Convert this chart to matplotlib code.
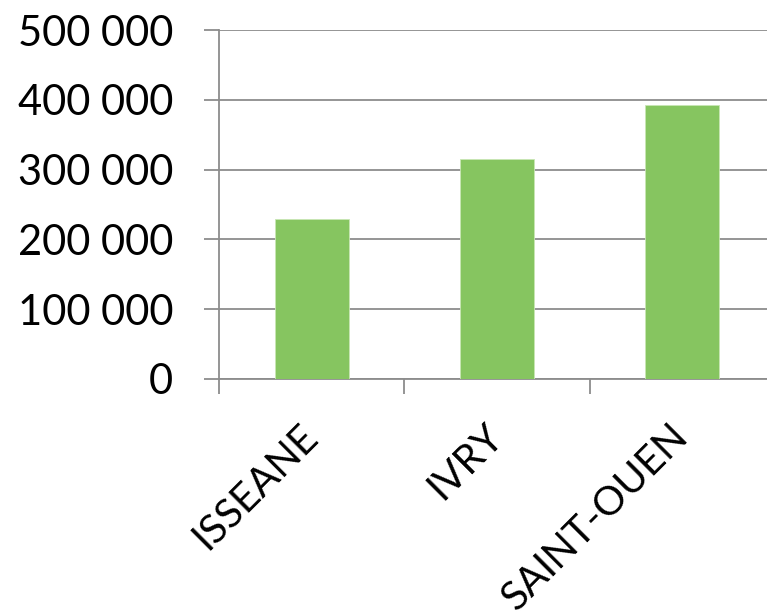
import matplotlib
matplotlib.use("Agg")
import matplotlib.pyplot as plt
from matplotlib.ticker import FuncFormatter, FixedLocator

plt.rcParams['font.family'] = ['Lato', 'DejaVu Sans']

# Sites and their values
sites = ['ISSEANE', 'IVRY', 'SAINT-OUEN']
values = [229700, 315700, 393000]

grid_col = '#8c8c8c'
bar_col = '#86c560'

fig = plt.figure(figsize=(7.67, 6.12), dpi=100)
# plot area runs a little past the right edge of the figure
ax = fig.add_axes([219 / 767, 1 - 379 / 612, (775 - 219) / 767, (379 - 30) / 612])

x = list(range(len(sites)))
ax.bar(x, values, width=0.4, color=bar_col, edgecolor='#c8e6b4', linewidth=0.6, zorder=3)

ax.set_xlim(-0.5, len(sites) - 0.5)
ax.set_ylim(0, 500000)
ax.set_yticks(range(0, 500001, 100000))
ax.yaxis.set_major_formatter(FuncFormatter(lambda v, p: f"{int(v):,}".replace(',', ' ')))
ax.yaxis.grid(True, color=grid_col, linewidth=1.3, zorder=0)

# category labels at centres, tick marks between categories
ax.set_xticks(x)
ax.set_xticklabels(sites, rotation=45, ha='right', va='center', rotation_mode='anchor')
ax.xaxis.set_minor_locator(FixedLocator([i - 0.5 for i in range(len(sites) + 1)]))
ax.tick_params(axis='x', which='major', length=0, pad=37, labelsize=29)
ax.tick_params(axis='x', which='minor', length=11, width=1.3, color=grid_col, direction='out')
ax.tick_params(axis='y', length=11, width=1.3, color=grid_col, direction='out', pad=22, labelsize=30)

for s in ['top', 'right']:
    ax.spines[s].set_visible(False)
for s in ['left', 'bottom']:
    ax.spines[s].set_color(grid_col)
    ax.spines[s].set_linewidth(1.3)

fig.savefig('out.png', dpi=100)
